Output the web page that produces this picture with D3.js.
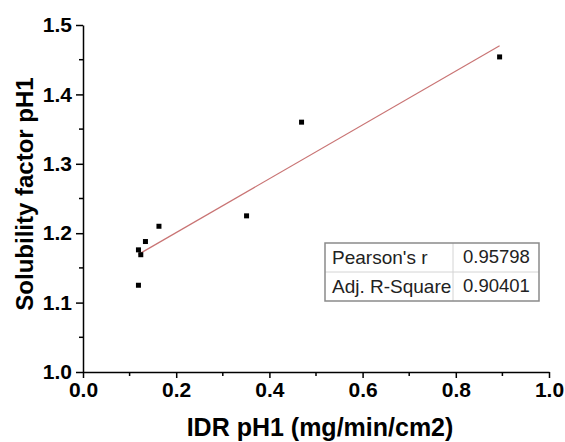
<!DOCTYPE html>
<html>
<head>
<meta charset="utf-8">
<script src="https://cdn.jsdelivr.net/npm/d3@7"></script>
<style>
  body { margin: 0; background: #fff; }
  svg { display: block; font-family: "Liberation Sans", Arial, sans-serif; }
</style>
</head>
<body>
<div id="chart"></div>
<script>
// measured values
const idr = [0.119, 0.124, 0.134, 0.163, 0.351, 0.119, 0.469, 0.894];
const sol = [1.176, 1.169, 1.188, 1.210, 1.225, 1.125, 1.360, 1.454];

const xTicks = [0.0, 0.2, 0.4, 0.6, 0.8, 1.0];
const yTicks = [1.0, 1.1, 1.2, 1.3, 1.4, 1.5];

const statNames = ["Pearson's r", "Adj. R-Square"];
const statValues = ["0.95798", "0.90401"];

const width = 565, height = 442;
const margin = { top: 25, right: 16, bottom: 70, left: 83 };

const svg = d3.select("#chart").append("svg")
  .attr("width", width)
  .attr("height", height);

const x = d3.scaleLinear().domain([0, 1]).range([margin.left, width - margin.right]);
const y = d3.scaleLinear().domain([1, 1.5]).range([height - margin.bottom, margin.top]);

// least squares fit for the red line
const n = idr.length;
const mx = d3.mean(idr), my = d3.mean(sol);
let sxy = 0, sxx = 0;
for (let i = 0; i < n; i++) {
  sxy += (idr[i] - mx) * (sol[i] - my);
  sxx += (idr[i] - mx) * (idr[i] - mx);
}
const slope = sxy / sxx;
const icpt = my - slope * mx;
const [xmin, xmax] = d3.extent(idr);

svg.append("line")
  .attr("x1", x(xmin)).attr("y1", y(icpt + slope * xmin))
  .attr("x2", x(xmax)).attr("y2", y(icpt + slope * xmax))
  .attr("stroke", "#c97474")
  .attr("stroke-width", 1.2);

// points
svg.selectAll("rect.pt")
  .data(idr.map((d, i) => [d, sol[i]]))
  .enter()
  .append("rect")
  .attr("class", "pt")
  .attr("x", d => x(d[0]) - 2.5)
  .attr("y", d => y(d[1]) - 2.5)
  .attr("width", 5)
  .attr("height", 5)
  .attr("fill", "#000");

// axes
const minorX = d3.range(0.1, 1, 0.2);
const minorY = d3.range(1.05, 1.5, 0.1);

const xAxis = svg.append("g")
  .attr("transform", `translate(0,${height - margin.bottom})`)
  .call(d3.axisBottom(x).tickValues(xTicks).tickFormat(d3.format(".1f")).tickSize(6).tickPadding(4).tickSizeOuter(0));
xAxis.selectAll("line.minor")
  .data(minorX).enter().append("line")
  .attr("class", "minor")
  .attr("x1", d => x(d)).attr("x2", d => x(d))
  .attr("y1", 0).attr("y2", 4)
  .attr("stroke", "#000").attr("stroke-width", 1.5);

const yAxis = svg.append("g")
  .attr("transform", `translate(${margin.left},0)`)
  .call(d3.axisLeft(y).tickValues(yTicks).tickFormat(d3.format(".1f")).tickSize(7).tickPadding(4).tickSizeOuter(0));
yAxis.selectAll("line.minor")
  .data(minorY).enter().append("line")
  .attr("class", "minor")
  .attr("y1", d => y(d)).attr("y2", d => y(d))
  .attr("x1", 0).attr("x2", -4)
  .attr("stroke", "#000").attr("stroke-width", 1.5);

svg.selectAll(".domain, .tick line").attr("stroke", "#000").attr("stroke-width", 1.5);
svg.selectAll(".tick text")
  .attr("fill", "#000")
  .style("font-size", "21px")
  .style("font-weight", "bold")
  .style("font-family", "'Liberation Sans', Arial, sans-serif");

// axis titles
svg.append("text")
  .attr("x", (margin.left + width - margin.right) / 2 + 4)
  .attr("y", 436)
  .attr("text-anchor", "middle")
  .style("font-size", "25px")
  .style("font-weight", "bold")
  .text("IDR pH1 (mg/min/cm2)");

svg.append("text")
  .attr("transform", "translate(33,194) rotate(-90)")
  .attr("text-anchor", "middle")
  .style("font-size", "24px")
  .style("font-weight", "bold")
  .text("Solubility factor pH1");

// stats table
const tb = { x: 325, y: 243, w: 214, rowH: 29, split: 128 };
const table = svg.append("g");
table.append("line")
  .attr("x1", tb.x).attr("x2", tb.x + tb.w)
  .attr("y1", tb.y + tb.rowH).attr("y2", tb.y + tb.rowH)
  .attr("stroke", "#d4d4d4");
table.append("line")
  .attr("x1", tb.x + tb.split).attr("x2", tb.x + tb.split)
  .attr("y1", tb.y).attr("y2", tb.y + tb.rowH * 2)
  .attr("stroke", "#d4d4d4");
table.append("rect")
  .attr("x", tb.x).attr("y", tb.y)
  .attr("width", tb.w).attr("height", tb.rowH * 2)
  .attr("fill", "none")
  .attr("stroke", "#8a8a8a")
  .attr("stroke-width", 1.5);

table.selectAll("text.name")
  .data(statNames).enter().append("text")
  .attr("class", "name")
  .attr("x", tb.x + 7)
  .attr("y", (d, i) => tb.y + 21 + i * tb.rowH)
  .attr("fill", "#222")
  .style("font-size", "19px")
  .text(d => d);

table.selectAll("text.val")
  .data(statValues).enter().append("text")
  .attr("class", "val")
  .attr("x", tb.x + tb.split + 10)
  .attr("y", (d, i) => tb.y + 20 + i * tb.rowH)
  .attr("fill", "#222")
  .style("font-size", "18.5px")
  .text(d => d);
</script>
</body>
</html>
